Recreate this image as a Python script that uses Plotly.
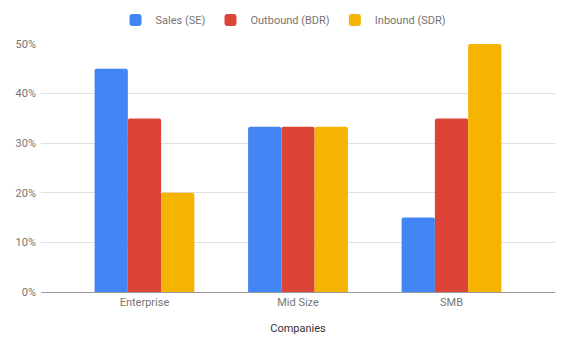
import plotly.graph_objects as go

categories = ["Enterprise", "Mid Size", "SMB"]
series_names = ["Sales (SE)", "Outbound (BDR)", "Inbound (SDR)"]
sales = [0.45, 0.3333, 0.15]
outbound = [0.35, 0.3333, 0.35]
inbound = [0.20, 0.3333, 0.50]
colors = ["#4285F4", "#DB4437", "#F4B400"]
y_ticks = [0, 0.1, 0.2, 0.3, 0.4, 0.5]
y_tick_labels = ["0%", "10%", "20%", "30%", "40%", "50%"]

fig = go.Figure()
for name, vals, c in zip(series_names, [sales, outbound, inbound], colors):
    fig.add_trace(go.Bar(x=categories, y=vals, name=name, marker_color=c,
                         marker_line_width=0))

fig.update_layout(
    width=567, height=344,
    margin=dict(l=41, r=12, t=44, b=52),
    paper_bgcolor="white", plot_bgcolor="white",
    font=dict(family="Roboto", size=11, color="#757575"),
    barmode="group", bargap=0.35, bargroupgap=0, barcornerradius=2,
    legend=dict(orientation="h", xref="container", x=0.5, xanchor="center",
                yref="container", y=1 - 20 / 344, yanchor="middle",
                font=dict(size=11, color="#757575"), itemwidth=30, traceorder="normal"),
    xaxis=dict(range=[-0.674, 2.674], showgrid=False, showline=True, linecolor="#999999",
               linewidth=1, ticks="", automargin=False,
               title=dict(text="Companies", font=dict(size=11, color="#333333"), standoff=16)),
    yaxis=dict(range=[0, 0.5], tickvals=y_ticks, ticktext=y_tick_labels,
               showgrid=True, gridcolor="#e0e0e0", zeroline=False, ticks="",
               ticklabelstandoff=4, automargin=False),
    showlegend=True,
)

fig.write_html("out.html")
